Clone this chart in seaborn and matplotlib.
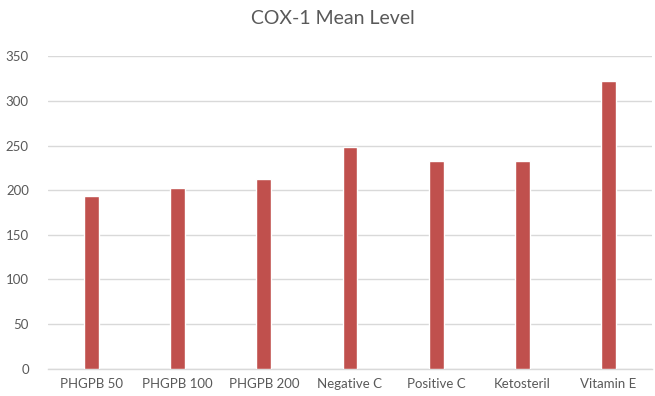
import matplotlib
matplotlib.use("Agg")
import matplotlib.pyplot as plt
import seaborn as sns
import pandas as pd

groups = ["PHGPB 50", "PHGPB 100", "PHGPB 200", "Negative C",
          "Positive C", "Ketosteril", "Vitamin E"]
mean_level = [193, 202, 212, 248, 233, 233, 322]
y_ticks = [0, 50, 100, 150, 200, 250, 300, 350]

df = pd.DataFrame({"group": groups, "level": mean_level})

sns.set_theme(style="white")
plt.rcParams["font.family"] = ["Lato", "DejaVu Sans"]

text_color = "#595959"
grid_color = "#d9d9d9"

fig = plt.figure(figsize=(6.55, 3.96), dpi=100)
ax = fig.add_axes([0.0737, 0.069, 0.9213, 0.789])

sns.barplot(data=df, x="group", y="level", color="#c0504d",
            width=0.17, saturation=1, ax=ax, zorder=3)

ax.set_ylim(0, 350)
ax.set_yticks(y_ticks)
ax.yaxis.grid(True, color=grid_color, linewidth=1.0, zorder=0)
ax.set_axisbelow(True)
for side in ["top", "right", "left"]:
    ax.spines[side].set_visible(False)
ax.spines["bottom"].set_color(grid_color)
ax.spines["bottom"].set_linewidth(1.0)
ax.tick_params(axis="both", length=0, colors=text_color, labelsize=9.5)
ax.tick_params(axis="y", pad=14)
ax.tick_params(axis="x", pad=7)
ax.set_xlabel("")
ax.set_ylabel("")

fig.suptitle("COX-1 Mean Level", x=0.508, y=0.975, fontsize=14,
             color=text_color)

fig.savefig("out.png", dpi=100)
